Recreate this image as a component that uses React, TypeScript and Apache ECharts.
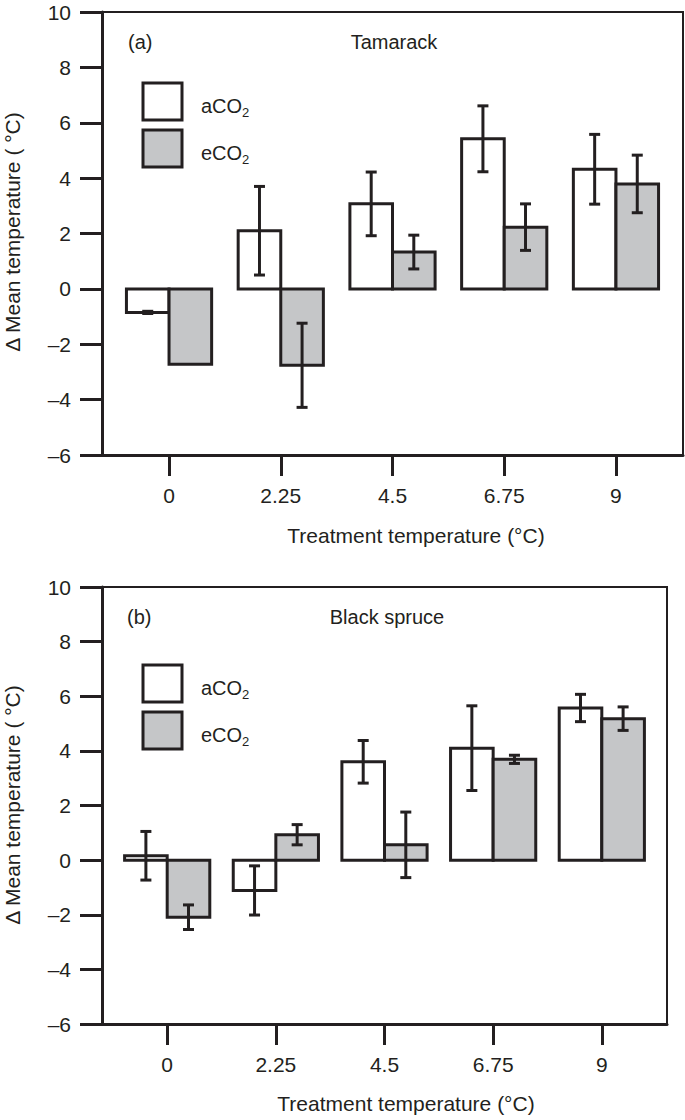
import React, { useEffect, useRef } from 'react';
import * as echarts from 'echarts';

// ---- data ----
const treatments = [0, 2.25, 4.5, 6.75, 9];
const treatmentLabels = ['0', '2.25', '4.5', '6.75', '9'];

const tamarackAmbient = [-0.85, 2.1, 3.07, 5.42, 4.32];
const tamarackAmbientErr = [0.04, 1.6, 1.15, 1.19, 1.26];
const tamarackElevated = [-2.72, -2.76, 1.33, 2.23, 3.79];
const tamarackElevatedErr = [0, 1.52, 0.61, 0.84, 1.04];

const spruceAmbient = [0.16, -1.11, 3.6, 4.1, 5.57];
const spruceAmbientErr = [0.89, 0.9, 0.78, 1.55, 0.5];
const spruceElevated = [-2.09, 0.93, 0.56, 3.69, 5.18];
const spruceElevatedErr = [0.45, 0.37, 1.2, 0.15, 0.43];

const panelTitles = ['Tamarack', 'Black spruce'];
const panelTags = ['(a)', '(b)'];
const seriesNames = ['aCO2', 'eCO2'];

const INK = '#231f20';
const GREY = '#c5c6c8';
const FONT = '"Liberation Sans", Arial, Helvetica, sans-serif';
const BAR_PX = 42.6;

function makeRender(side: number, fill: string) {
  return (params: any, api: any) => {
    const x = api.value(0);
    const y = api.value(1);
    const e = api.value(2);
    const base = api.coord([x, 0]);
    const top = api.coord([x, y]);
    const x0 = side < 0 ? base[0] - BAR_PX : base[0];
    const cx = x0 + BAR_PX / 2;
    const children: any[] = [
      {
        type: 'rect',
        shape: { x: x0, y: Math.min(base[1], top[1]), width: BAR_PX, height: Math.abs(base[1] - top[1]) },
        style: { fill, stroke: INK, lineWidth: 3 },
      },
    ];
    if (e > 0) {
      const hi = api.coord([x, y + e])[1];
      const lo = api.coord([x, y - e])[1];
      const ls = { stroke: INK, lineWidth: 3, lineCap: 'butt' };
      children.push({ type: 'line', shape: { x1: cx, y1: hi, x2: cx, y2: lo }, style: ls });
      children.push({ type: 'line', shape: { x1: cx - 5.5, y1: hi, x2: cx + 5.5, y2: hi }, style: ls });
      children.push({ type: 'line', shape: { x1: cx - 5.5, y1: lo, x2: cx + 5.5, y2: lo }, style: ls });
    }
    return { type: 'group', children };
  };
}

const grids = [
  { left: 102, top: 12, width: 581, height: 443 },
  { left: 102, top: 587, width: 565, height: 437 },
];

function toData(vals: number[], errs: number[]) {
  return treatments.map((t, i) => [t, vals[i], errs[i]]);
}

export default function App() {
  const ref = useRef<HTMLDivElement>(null);
  useEffect(() => {
    if (!ref.current) return;
    const chart = echarts.init(ref.current, null, { renderer: 'svg' });

    const xAxes = grids.map((_, gi) => ({
      type: 'value',
      gridIndex: gi,
      min: -1.35,
      max: 10.35,
      axisLine: { show: true, onZero: false, lineStyle: { color: INK, width: 3 } },
      axisTick: { show: true, inside: false, length: 21, customValues: treatments, lineStyle: { color: INK, width: 3 } },
      axisLabel: {
        show: true,
        customValues: treatments,
        margin: 30,
        fontSize: 21,
        color: INK,
        fontFamily: FONT,
        formatter: (v: number) => {
          const i = treatments.indexOf(v);
          return i >= 0 ? treatmentLabels[i] : '';
        },
      },
      splitLine: { show: false },
    }));

    const yAxes = grids.map((_, gi) => ({
      type: 'value',
      gridIndex: gi,
      min: -6,
      max: 10,
      interval: 2,
      axisLine: { show: true, onZero: false, lineStyle: { color: INK, width: 3 } },
      axisTick: { show: true, inside: false, length: 22, lineStyle: { color: INK, width: 3 } },
      axisLabel: {
        margin: 31,
        fontSize: 21,
        color: INK,
        fontFamily: FONT,
        formatter: (v: number) => (v < 0 ? '\u2013' + Math.abs(v) : String(v)),
      },
      splitLine: { show: false },
    }));

    const panels = [
      { a: toData(tamarackAmbient, tamarackAmbientErr), e: toData(tamarackElevated, tamarackElevatedErr) },
      { a: toData(spruceAmbient, spruceAmbientErr), e: toData(spruceElevated, spruceElevatedErr) },
    ];

    const series: any[] = [];
    panels.forEach((p, gi) => {
      series.push({
        type: 'custom',
        name: seriesNames[0],
        xAxisIndex: gi,
        yAxisIndex: gi,
        itemStyle: { color: '#ffffff', borderColor: INK, borderWidth: 3 },
        encode: { x: 0, y: 1 },
        renderItem: makeRender(-1, '#ffffff'),
        data: p.a,
        z: 3,
      });
      series.push({
        type: 'custom',
        name: seriesNames[1],
        xAxisIndex: gi,
        yAxisIndex: gi,
        itemStyle: { color: GREY, borderColor: INK, borderWidth: 3 },
        encode: { x: 0, y: 1 },
        renderItem: makeRender(1, GREY),
        data: p.e,
        z: 3,
      });
    });

    const legendTops = [81.5, 663.5];
    const legends = legendTops.map((top) => ({
      left: 141.5,
      top,
      orient: 'vertical',
      padding: 0,
      icon: 'rect',
      itemWidth: 39,
      itemHeight: 37,
      itemGap: 7,
      selectedMode: false,
      data: [
        { name: seriesNames[0], itemStyle: { color: '#ffffff', borderColor: INK, borderWidth: 3 } },
        { name: seriesNames[1], itemStyle: { color: GREY, borderColor: INK, borderWidth: 3 } },
      ],
      formatter: (name: string) => `{m|${name.slice(0, 3)}}{s|${name.slice(3)}}`,
      textStyle: {
        padding: [8, 0, 0, 14],
        color: INK,
        fontFamily: FONT,
        rich: {
          m: { fontSize: 20, lineHeight: 26, color: INK, fontFamily: FONT },
          s: { fontSize: 13, lineHeight: 16, verticalAlign: 'bottom', color: INK, fontFamily: FONT },
        },
      },
    }));

    const graphic: any[] = [];
    const yTitleCenters = [232, 805];
    const xTitle = [
      { x: 416, y: 535 },
      { x: 406, y: 1103 },
    ];
    const tagPos = [
      { x: 128, y: 42 },
      { x: 127, y: 617 },
    ];
    const namePos = [
      { x: 394, y: 42 },
      { x: 387, y: 617 },
    ];
    [0, 1].forEach((i) => {
      graphic.push({
        type: 'text',
        x: 12,
        y: yTitleCenters[i],
        rotation: Math.PI / 2,
        style: {
          text: '\u0394 Mean temperature ( \u00b0C)',
          fontSize: 21,
          fontFamily: FONT,
          fill: INK,
          align: 'center',
          verticalAlign: 'middle',
        },
      });
      graphic.push({
        type: 'text',
        x: xTitle[i].x,
        y: xTitle[i].y,
        style: {
          text: 'Treatment temperature (\u00b0C)',
          fontSize: 21,
          fontFamily: FONT,
          fill: INK,
          align: 'center',
          verticalAlign: 'middle',
        },
      });
      graphic.push({
        type: 'text',
        x: tagPos[i].x,
        y: tagPos[i].y,
        style: { text: panelTags[i], fontSize: 20, fontFamily: FONT, fill: INK, align: 'left', verticalAlign: 'middle' },
      });
      graphic.push({
        type: 'text',
        x: namePos[i].x,
        y: namePos[i].y,
        style: { text: panelTitles[i], fontSize: 20, fontFamily: FONT, fill: INK, align: 'center', verticalAlign: 'middle' },
      });
    });

    chart.setOption({
      animation: false,
      backgroundColor: '#ffffff',
      grid: grids.map((g) => ({ ...g, show: true, borderColor: INK, borderWidth: 2, backgroundColor: 'transparent', containLabel: false })),
      xAxis: xAxes,
      yAxis: yAxes,
      legend: legends,
      series,
      graphic,
    });
    return () => chart.dispose();
  }, []);

  return (
    <div
      ref={ref}
      style={{ position: 'absolute', left: 0, top: 0, width: 685, height: 1120, background: '#fff' }}
    />
  );
}
